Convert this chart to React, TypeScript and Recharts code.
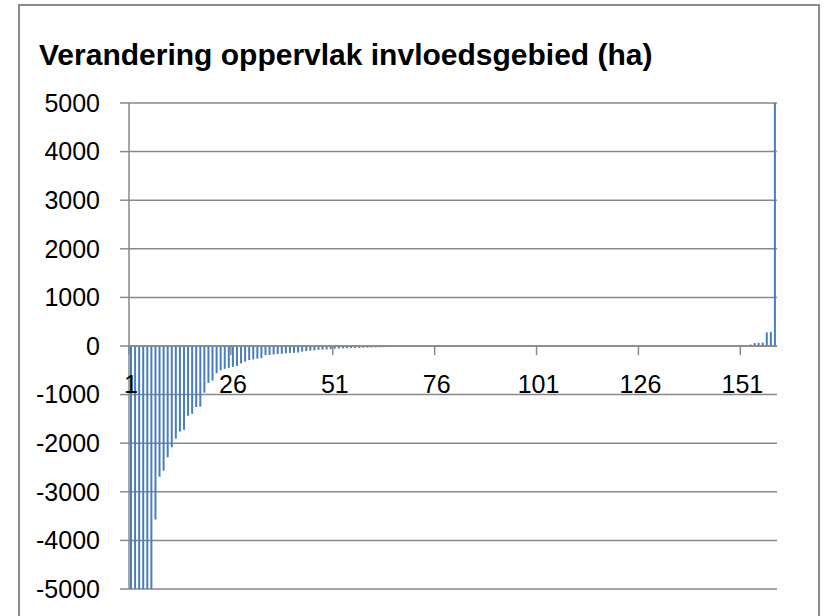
import { BarChart, Bar, XAxis, YAxis, CartesianGrid, ReferenceLine } from "recharts";

// categories 1..159 (influence areas, sorted by change)
const CATEGORIES = Array.from({ length: 159 }, (_, i) => i + 1);

// change in area (ha); first six and the last are clipped by the axis
const CHANGE_HA = [
  -5000, -5000, -5000, -5000, -5000, -5000, -3570, -2690, -2565, -2290,
  -2085, -1905, -1760, -1725, -1435, -1395, -1255, -1250, -960, -760,
  -710, -560, -500, -470, -450, -430, -410, -360, -320, -290,
  -275, -260, -250, -190, -185, -175, -165, -160, -150, -145,
  -140, -135, -115, -105, -95, -90, -80, -75, -70, -65,
  -55, -52, -48, -45, -42, -40, -38, -35, -33, -30,
  -28, -26, -24, -22, -20, -18, -16, -14, -12, -10,
  -9, -8, -7, -6, -5, -5, -4, -4, -4, -3,
  -3, -3, -3, -2, -2, -2, -2, -2, -2, -1,
  -1, -1, -1, -1, -1, -1, -1, -1, -1, -1,
  -1, -1, 0, 0, 0, 0, 0, 0, 0, 0,
  0, 0, 0, 0, 0, 0, 0, 0, 0, 0,
  0, 0, 0, 0, 0, 0, 0, 0, 0, 0,
  0, 0, 0, 0, 0, 0, 0, 0, 1, 1,
  1, 1, 1, 2, 2, 2, 3, 3, 4, 5,
  6, 15, 30, 60, 65, 70, 280, 290, 5000,
];

const Y_TICKS = [5000, 4000, 3000, 2000, 1000, 0, -1000, -2000, -3000, -4000, -5000];
const TITLE = "Verandering oppervlak invloedsgebied (ha)";

const data = CATEGORIES.map((c, i) => ({ cat: c, v: CHANGE_HA[i] }));

const W = 798;
const H = 610;
const M = { top: 97, right: 41, left: 29, bottom: 0 };
const Y_AXIS_W = 80;
const X_AXIS_H = 27;
const PLOT_W = W - M.left - M.right - Y_AXIS_W;
const PLOT_H = H - M.top - M.bottom - X_AXIS_H;
const ZERO_Y = M.top + PLOT_H / 2;
const BAND = PLOT_W / CATEGORIES.length;

const GRID = "#898989";
const FONT = "'Liberation Sans', Arial, sans-serif";

// x labels sit under the zero line (Excel style), tick marks on category boundaries
function ZeroTick(props: any) {
  const { x, payload } = props;
  const bx = x - BAND / 2;
  return (
    <g>
      <line x1={bx} x2={bx} y1={ZERO_Y} y2={ZERO_Y + 9} stroke={GRID} strokeWidth={1.5} />
      <text x={x} y={ZERO_Y + 47} textAnchor="middle" fontSize={25} fontFamily={FONT} fill="#000">
        {payload.value}
      </text>
    </g>
  );
}

export default function App() {
  return (
    <div
      style={{
        position: "fixed",
        left: 18,
        top: 4,
        width: W,
        height: 640,
        border: "2px solid #8c8c8c",
        background: "#fff",
        overflow: "hidden",
      }}
    >
      <div
        style={{
          position: "absolute",
          left: 19,
          top: 34,
          fontFamily: FONT,
          fontWeight: 700,
          fontSize: 30,
          lineHeight: "30px",
          color: "#000",
          whiteSpace: "nowrap",
        }}
      >
        {TITLE}
      </div>
      <BarChart width={W} height={H} data={data} margin={M} barSize={2}>
        <CartesianGrid vertical={false} stroke={GRID} strokeWidth={1.5} />
        <XAxis
          dataKey="cat"
          height={X_AXIS_H}
          interval={24}
          tick={<ZeroTick />}
          tickLine={false}
          axisLine={false}
          tickSize={0}
          tickMargin={0}
        />
        <YAxis
          width={Y_AXIS_W}
          domain={[-5000, 5000]}
          ticks={Y_TICKS}
          allowDataOverflow
          tick={{ fontSize: 25, fill: "#000", fontFamily: FONT }}
          tickSize={9}
          tickMargin={20}
          axisLine={{ stroke: GRID, strokeWidth: 1.5 }}
          tickLine={{ stroke: GRID, strokeWidth: 1.5 }}
        />
        <ReferenceLine y={0} stroke={GRID} strokeWidth={1.5} />
        <Bar dataKey="v" fill="#4A7EBB" isAnimationActive={false} />
      </BarChart>
    </div>
  );
}
